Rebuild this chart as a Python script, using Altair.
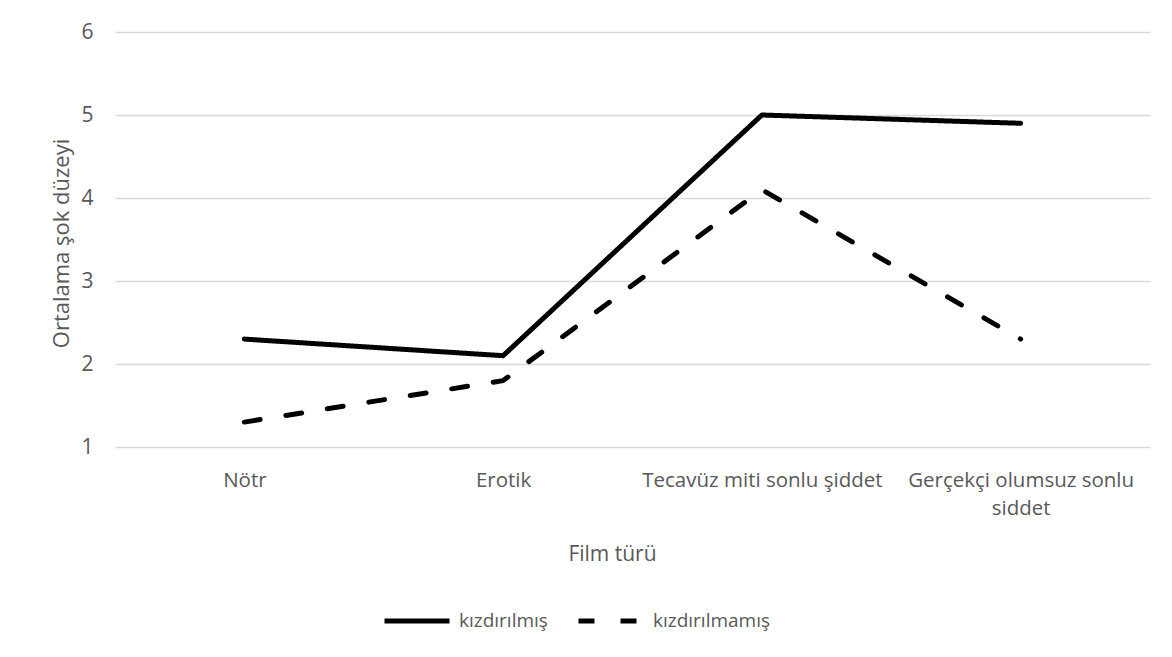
import altair as alt
import pandas as pd

categories = ["Nötr", "Erotik", "Tecavüz miti sonlu şiddet", "Gerçekçi olumsuz sonlu siddet"]
series_names = ["kızdırılmış", "kızdırılmamış"]
kizdirilmis = [2.3, 2.1, 5.0, 4.9]
kizdirilmamis = [1.3, 1.8, 4.1, 2.3]
y_ticks = [1, 2, 3, 4, 5, 6]

rows = []
for c, v in zip(categories, kizdirilmis):
    rows.append({"Film": c, "Grup": series_names[0], "Deger": v})
for c, v in zip(categories, kizdirilmamis):
    rows.append({"Film": c, "Grup": series_names[1], "Deger": v})
df = pd.DataFrame(rows)

FONT = "Open Sans"
GRAY = "#595959"

label_expr = ("datum.label == 'Gerçekçi olumsuz sonlu siddet' ? "
              "['Gerçekçi olumsuz sonlu', 'siddet'] : datum.label")

chart = alt.Chart(df).mark_line(
    strokeWidth=5, strokeCap="round", strokeJoin="round", color="black"
).encode(
    x=alt.X("Film:N", sort=categories,
            scale=alt.Scale(paddingInner=0, paddingOuter=0.5),
            axis=alt.Axis(title="Film türü", labelAngle=0, domain=False, ticks=False,
                          grid=False, labelFont=FONT, labelFontSize=20.5, labelColor=GRAY,
                          labelPadding=23, labelLineHeight=28, labelExpr=label_expr,
                          labelLimit=500,
                          titleFont=FONT, titleFontSize=21, titleColor=GRAY,
                          titleFontWeight="normal", titleX=497, titleY=113,
                          titleBaseline="alphabetic", titleAlign="center")),
    y=alt.Y("Deger:Q",
            scale=alt.Scale(domain=[1, 6], nice=False, zero=False),
            axis=alt.Axis(title="Ortalama şok düzeyi", values=y_ticks, domain=False,
                          ticks=False, grid=True, gridColor="#d9d9d9", gridWidth=1.3,
                          labelFont=FONT, labelFontSize=21, labelColor=GRAY, labelPadding=22,
                          titleFont=FONT, titleFontSize=22, titleColor=GRAY,
                          titleFontWeight="normal", titleAngle=270, titleX=-47, titleY=211,
                          titleBaseline="alphabetic", titleAlign="center")),
    strokeDash=alt.StrokeDash("Grup:N", sort=series_names,
                              scale=alt.Scale(domain=series_names, range=[[1, 0], [16, 26]]),
                              legend=alt.Legend(title=None, orient="none", direction="horizontal",
                                                legendX=267, legendY=554, padding=0,
                                                symbolType="stroke", symbolSize=4225,
                                                symbolStrokeWidth=5, symbolStrokeColor="black",
                                                symbolDash=[22, 18],
                                                labelFont=FONT, labelFontSize=19,
                                                labelColor=GRAY, labelOffset=7,
                                                columnPadding=20)),
    order=alt.Order("Film_order:Q"),
).transform_calculate(
    Film_order="indexof(%s, datum.Film)" % str(categories)
).properties(
    width=1035, height=415,
    autosize=alt.AutoSizeParams(type="none"),
    padding={"left": 107, "top": 24, "right": 12, "bottom": 190},
).configure_view(stroke=None)

chart.save("out.html", embed_options={"renderer": "svg", "actions": False})
